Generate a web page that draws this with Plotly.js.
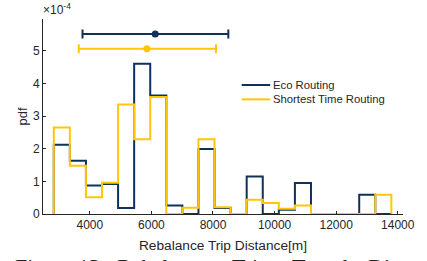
<!DOCTYPE html>
<html><head><meta charset="utf-8">
<script src="https://cdn.plot.ly/plotly-3.0.1.min.js"></script>
<style>html,body{margin:0;padding:0;background:#fff;overflow:hidden}#c{width:427px;height:261px}</style>
</head><body><div id="c"></div>
<script>
// bin layout
const binStart = 2830;
const binWidth = 522;
// pdf values (x1e-4) per bin
const ecoPdf = [2.12,1.63,0.87,0.92,0.18,4.60,3.63,0.26,0.0,1.99,0.18,0.0,1.15,0.0,0.13,0.95,0.0,0.0,0.0,0.59,0.0];
const shortPdf = [2.65,1.48,0.51,0.96,3.35,2.29,3.58,0.0,0.19,2.29,0.21,0.0,0.44,0.34,0.16,0.26,0.0,0.0,0.0,0.0,0.59];
// mean and range
const ecoStats = {mean:6124, lo:3763, hi:8498, y:5.51};
const shortStats = {mean:5854, lo:3642, hi:8098, y:5.06};
const xTicks = [4000,6000,8000,10000,12000,14000];
const yTicks = [0,1,2,3,4,5];
const seriesNames = ['Eco Routing','Shortest Time Routing'];
const captionWords = ['Figure 13:','Rebalance','Trip','Travel','Distance'];

const navy = '#10315a';
const gold = '#ffc60b';

function stairs(vals){
  const edges = vals.map((v,i)=>binStart+i*binWidth);
  edges.push(binStart+vals.length*binWidth);
  const xs=[edges[0]], ys=[0];
  for(let i=0;i<vals.length;i++){xs.push(edges[i]); ys.push(vals[i]);}
  xs.push(edges[vals.length]); ys.push(0);
  return {xs, ys};
}
const e = stairs(ecoPdf), s = stairs(shortPdf);

const traces = [
  {x:e.xs, y:e.ys, type:'scatter', mode:'lines', line:{shape:'hv', color:navy, width:2}, name:seriesNames[0], showlegend:false},
  {x:s.xs, y:s.ys, type:'scatter', mode:'lines', line:{shape:'hv', color:gold, width:2}, name:seriesNames[1], showlegend:false},
  {x:[ecoStats.mean], y:[ecoStats.y], type:'scatter', mode:'markers', marker:{color:navy, size:7}, showlegend:false,
   error_x:{type:'data', symmetric:false, array:[ecoStats.hi-ecoStats.mean], arrayminus:[ecoStats.mean-ecoStats.lo], color:navy, thickness:2, width:4.5}},
  {x:[shortStats.mean], y:[shortStats.y], type:'scatter', mode:'markers', marker:{color:gold, size:7}, showlegend:false,
   error_x:{type:'data', symmetric:false, array:[shortStats.hi-shortStats.mean], arrayminus:[shortStats.mean-shortStats.lo], color:gold, thickness:2, width:4.5}}
];

// custom legend (paper coordinates)
const legX0 = 0.552, legX1 = 0.631, legTextX = 0.633;
const legRows = [0.6615, 0.588];
const legColors = [navy, gold];
const shapes = legRows.map((yy,i)=>({type:'line', xref:'paper', yref:'paper', x0:legX0, x1:legX1, y0:yy, y1:yy, line:{color:legColors[i], width:2}}));
const legAnn = legRows.map((yy,i)=>({text:seriesNames[i], xref:'paper', yref:'paper', x:legTextX, y:yy, xanchor:'left', yanchor:'middle', showarrow:false, font:{size:11.3, color:'#262626'}}));

// caption, clipped at the bottom edge (word start positions as paper fractions)
const capPos = [-0.083, 0.2, 0.52, 0.686, 0.897];
const capAnn = captionWords.map((w,i)=>({text:w, xref:'paper', yref:'paper', x:capPos[i], y:0, yshift:-37.5, xanchor:'left', yanchor:'top', showarrow:false, font:{family:'Liberation Serif, serif', size:22, color:'#222'}}));

const layout = {
  width:427, height:261,
  margin:{l:43, r:24, t:19, b:47},
  paper_bgcolor:'#fff', plot_bgcolor:'#fff',
  font:{family:'Liberation Sans, Arial, sans-serif', size:12, color:'#262626'},
  xaxis:{range:[2480,14170], tickvals:xTicks, ticktext:xTicks.map(String), ticks:'inside', ticklen:3, tickcolor:'#262626',
    showline:true, linecolor:'#262626', linewidth:1, showgrid:false, zeroline:false,
    title:{text:'Rebalance Trip Distance[m]', font:{size:13.7}, standoff:9}},
  yaxis:{range:[0,5.97], tickvals:yTicks, ticktext:yTicks.map(String), ticks:'inside', ticklen:3, tickcolor:'#262626',
    showline:true, linecolor:'#262626', linewidth:1, showgrid:false, zeroline:false,
    title:{text:'pdf', font:{size:13}, standoff:2}},
  showlegend:false,
  shapes:shapes,
  annotations:[
    {text:'×10<sup>-4</sup>', xref:'paper', yref:'paper', x:0, y:1, xanchor:'left', yanchor:'bottom', showarrow:false, font:{size:12, color:'#262626'}, xshift:-2}
  ].concat(legAnn, capAnn)
};
Plotly.newPlot('c', traces, layout, {displayModeBar:false, staticPlot:true});
</script></body></html>
